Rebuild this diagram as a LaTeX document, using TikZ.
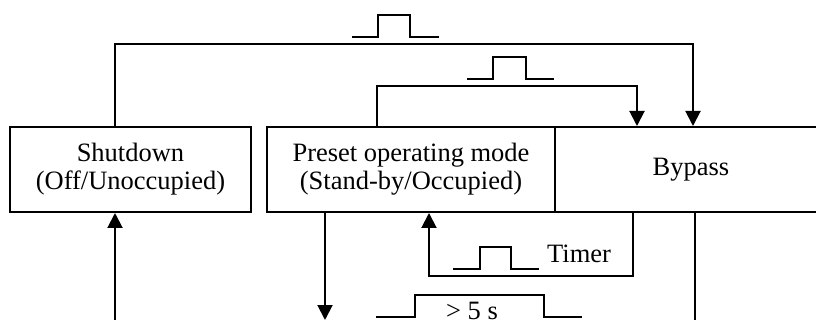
\documentclass[tikz,border=0pt]{standalone}
\usepackage{fontspec}
\setmainfont{Liberation Serif}
\usepackage{tikz}
\usetikzlibrary{arrows.meta}
\tikzstyle{modebox} = [draw=black, line width=2pt, rectangle, inner sep=0pt,
    minimum height=85pt, align=center, font=\fontsize{26.5}{28}\selectfont]
\tikzstyle{sig} = [line width=2pt, -{Triangle[width=15pt,length=15pt]}]
\tikzstyle{wave} = [line width=2pt]
\tikzstyle{lbl} = [inner sep=0pt, font=\fontsize{26.5}{28}\selectfont]

\begin{document}
\begin{tikzpicture}[x=1pt, y=-1pt]
    \useasboundingbox (0,0) rectangle (816,320);
    % operating modes
    \node [modebox, minimum width=241pt] (shutdown) at (130.5,169.5) {Shutdown\\(Off/Unoccupied)};
    \node [modebox, minimum width=288pt] (preset) at (411,169.5) {Preset operating mode\\(Stand-by/Occupied)};
    \node [modebox, minimum width=272pt] (bypass) at (691,169.5) {\raisebox{-3pt}{Bypass}};
    % turning points of the connectors
    \coordinate (a1) at (115,44);
    \coordinate (a2) at (693,44);
    \coordinate (b1) at (377,86);
    \coordinate (b2) at (637,86);
    \coordinate (c1) at (633,276);
    \coordinate (c2) at (429,276);
    \coordinate (d1) at (325,320);
    \coordinate (e1) at (115,324);
    \coordinate (f1) at (695,324);
    % connectors
    \draw [sig] (shutdown.north -| a1) |- (a2) -- (bypass.north -| a2);
    \draw [sig] (preset.north -| b1) |- (b2) -- (bypass.north -| b2);
    \draw [sig] (bypass.south -| c1) |- (c2) -- (preset.south -| c2);
    \draw [sig] (preset.south -| d1) -- (d1);
    \draw [sig] (e1) -- (shutdown.south -| e1);
    \draw [wave] (bypass.south -| f1) -- (f1);
    % pulses
    \draw [wave] (352,37) -- (378,37) -- (378,15) -- (410,15) -- (410,37) -- (439,37);
    \draw [wave] (467,79) -- (493,79) -- (493,57) -- (526,57) -- (526,79) -- (554,79);
    \draw [wave] (453,269) -- (480,269) -- (480,247) -- (511,247) -- (511,269) -- (539,269);
    \draw [wave] (376,317) -- (415,317) -- (415,295) -- (544,295) -- (544,317) -- (582,317);
    \node [lbl, anchor=base west] (timer) at (547,262) {Timer};
    \node [lbl, anchor=base] (delay) at (472,319) {> 5 s};
\end{tikzpicture}
\end{document}
